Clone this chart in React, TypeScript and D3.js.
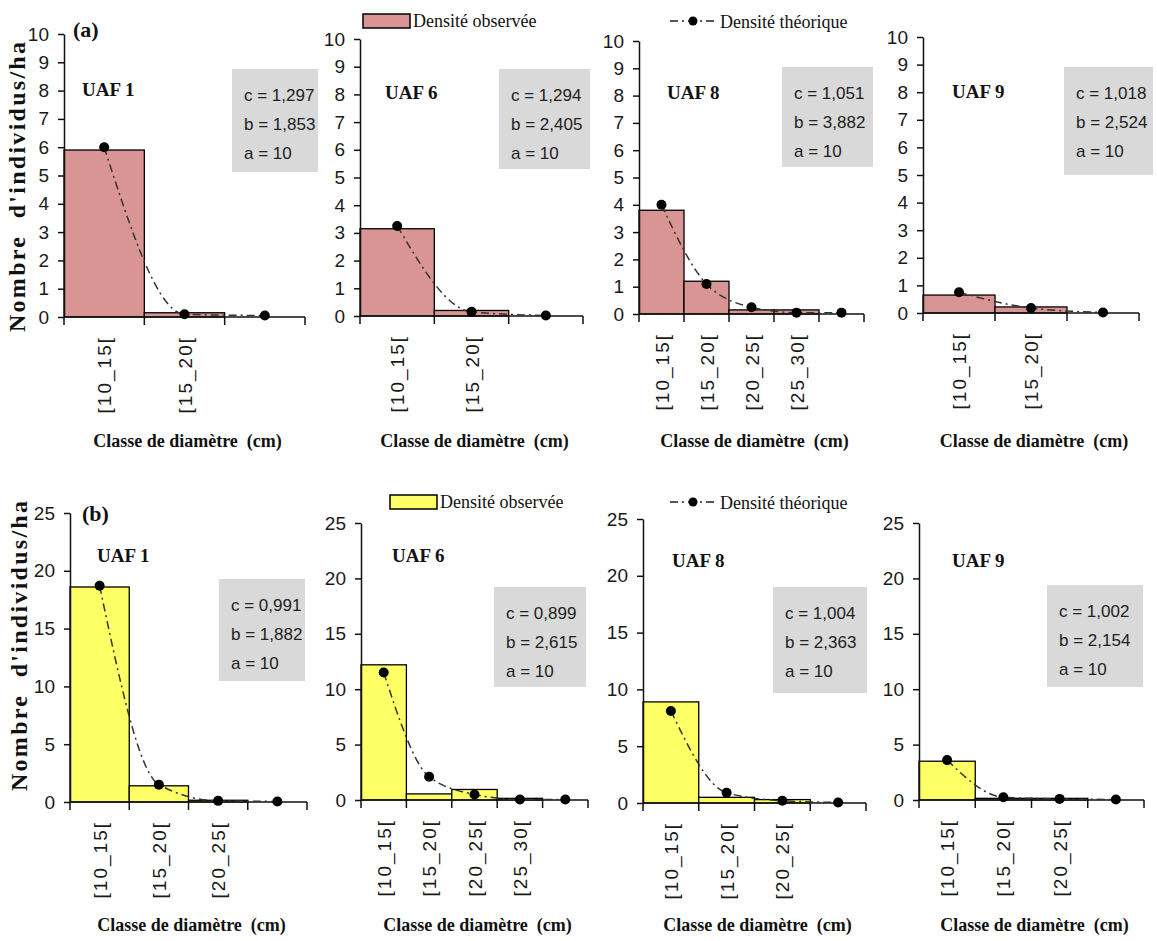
import React, { useEffect, useRef } from 'react';
import * as d3 from 'd3';

// diameter classes per panel (last class is empty, no label)
const classes3 = ["[10_15[", "[15_20[", ""];
const classes4 = ["[10_15[", "[15_20[", "[20_25[", ""];
const classes5 = ["[10_15[", "[15_20[", "[20_25[", "[25_30[", ""];

const uafNames = ["UAF 1", "UAF 6", "UAF 8", "UAF 9"];

// (a) observed / theoretical densities
const obsA1 = [5.9, 0.15, 0];
const theoA1 = [6.0, 0.1, 0.05];
const obsA6 = [3.15, 0.2, 0];
const theoA6 = [3.25, 0.15, 0.02];
const obsA8 = [3.8, 1.2, 0.15, 0.15, 0];
const theoA8 = [4.0, 1.1, 0.25, 0.05, 0.05];
const obsA9 = [0.65, 0.22, 0];
const theoA9 = [0.75, 0.18, 0.02];

// (b)
const obsB1 = [18.6, 1.4, 0.15, 0];
const theoB1 = [18.7, 1.5, 0.1, 0.05];
const obsB6 = [12.2, 0.55, 0.95, 0.15, 0];
const theoB6 = [11.5, 2.1, 0.5, 0.05, 0.05];
const obsB8 = [8.9, 0.5, 0.3, 0];
const theoB8 = [8.1, 0.9, 0.2, 0.05];
const obsB9 = [3.5, 0.15, 0.15, 0];
const theoB9 = [3.6, 0.25, 0.1, 0.05];

// Weibull parameters c, b, a
const paramsA = [["1,297", "1,853", "10"], ["1,294", "2,405", "10"], ["1,051", "3,882", "10"], ["1,018", "2,524", "10"]];
const paramsB = [["0,991", "1,882", "10"], ["0,899", "2,615", "10"], ["1,004", "2,363", "10"], ["1,002", "2,154", "10"]];

const ticksA = d3.range(0, 11, 1);
const ticksB = d3.range(0, 26, 5);

const SERIF = "'Liberation Serif', 'Times New Roman', serif";
const NARROW = "'Liberation Sans Narrow', 'Arial Narrow', 'Liberation Sans', sans-serif";
const SANS = "'Liberation Sans', Arial, sans-serif";

const App = () => {
  const svgRef = useRef<SVGSVGElement>(null);

  useEffect(() => {
    const svg = d3.select(svgRef.current);
    svg.selectAll("*").remove();

    const rows = [
      {
        label: "(a)", labelPos: [73, 37], max: 10, ticks: ticksA, fill: "#D99594",
        classes: [classes3, classes3, classes5, classes3],
        obs: [obsA1, obsA6, obsA8, obsA9], theo: [theoA1, theoA6, theoA8, theoA9],
        params: paramsA,
        frames: [
          { x0: 64, x1: 305, top: 34, bottom: 317 },
          { x0: 360, x1: 583, top: 39, bottom: 316 },
          { x0: 639, x1: 864, top: 41, bottom: 314 },
          { x0: 923, x1: 1139, top: 37, bottom: 313 },
        ],
        uafPos: [[82, 96], [385, 99], [667, 99], [952, 98]],
        boxes: [[232, 69, 86, 103], [499, 69, 91, 100], [782, 67, 91, 100], [1064, 67, 89, 108]],
        titleY: 447, yTitle: [25, 187],
        legend: { rectX: 363, rectY: 14, lineX: 670, y: 21 },
      },
      {
        label: "(b)", labelPos: [82, 521], max: 25, ticks: ticksB, fill: "#FFFF66",
        classes: [classes4, classes5, classes4, classes4],
        obs: [obsB1, obsB6, obsB8, obsB9], theo: [theoB1, theoB6, theoB8, theoB9],
        params: paramsB,
        frames: [
          { x0: 70, x1: 307, top: 513, bottom: 802 },
          { x0: 361, x1: 588, top: 523, bottom: 800 },
          { x0: 643, x1: 866, top: 519, bottom: 803 },
          { x0: 919, x1: 1144, top: 523, bottom: 800 },
        ],
        uafPos: [[97, 562], [392, 562], [672, 567], [952, 567]],
        boxes: [[219, 579, 86, 102], [494, 587, 92, 100], [773, 587, 94, 106], [1047, 585, 96, 102]],
        titleY: 931, yTitle: [27, 646],
        legend: { rectX: 390, rectY: 495, lineX: 670, y: 502 },
      },
    ];

    rows.forEach(row => {
      // panel letter
      svg.append("text").attr("x", row.labelPos[0]).attr("y", row.labelPos[1])
        .text(row.label).attr("font-family", SERIF).attr("font-weight", "bold")
        .attr("font-size", 22).attr("fill", "#111");

      // y title
      svg.append("text")
        .attr("transform", `translate(${row.yTitle[0]},${row.yTitle[1]}) rotate(-90)`)
        .attr("text-anchor", "middle").text("Nombre  d'individus/ha")
        .style("white-space", "pre")
        .attr("font-family", SERIF).attr("font-weight", "bold").attr("font-size", 24)
        .attr("textLength", 290).attr("lengthAdjust", "spacing").attr("fill", "#111");

      // legend
      const lg = row.legend;
      svg.append("rect").attr("x", lg.rectX).attr("y", lg.rectY).attr("width", 47).attr("height", 14)
        .attr("fill", row.fill).attr("stroke", "#000").attr("stroke-width", 1.5);
      svg.append("text").attr("x", lg.rectX + 50).attr("y", lg.rectY + 13).text("Densité observée")
        .attr("font-family", SERIF).attr("font-size", 18).attr("fill", "#111");
      svg.append("line").attr("x1", lg.lineX).attr("x2", lg.lineX + 47).attr("y1", lg.y).attr("y2", lg.y)
        .attr("stroke", "#222").attr("stroke-width", 1.5).attr("stroke-dasharray", "8,4,2,4");
      svg.append("circle").attr("cx", lg.lineX + 23).attr("cy", lg.y).attr("r", 4.5).attr("fill", "#000");
      svg.append("text").attr("x", lg.lineX + 50).attr("y", lg.y + 7).text("Densité théorique")
        .attr("font-family", SERIF).attr("font-size", 18).attr("fill", "#111");

      row.frames.forEach((f, i) => {
        const classes = row.classes[i];
        const obs = row.obs[i];
        const theo = row.theo[i];
        const g = svg.append("g");

        const x = d3.scaleBand().domain(classes).range([f.x0, f.x1]).padding(0);
        const y = d3.scaleLinear().domain([0, row.max]).range([f.bottom, f.top]);

        // info box
        const b = row.boxes[i];
        g.append("rect").attr("x", b[0]).attr("y", b[1]).attr("width", b[2]).attr("height", b[3])
          .attr("fill", "#D9D9D9");
        ["c", "b", "a"].forEach((p, k) => {
          g.append("text").attr("x", b[0] + 12).attr("y", b[1] + 32 + k * 29)
            .text(`${p} = ${row.params[i][k]}`)
            .attr("font-family", NARROW).attr("font-size", 17).attr("fill", "#222");
        });

        // UAF label
        g.append("text").attr("x", row.uafPos[i][0]).attr("y", row.uafPos[i][1]).text(uafNames[i])
          .attr("font-family", SERIF).attr("font-weight", "bold").attr("font-size", 19)
          .attr("fill", "#111");

        // bars
        g.selectAll("rect.bar").data(obs.map((v, k) => ({ c: classes[k], v })).filter(d => d.v > 0))
          .enter().append("rect").attr("class", "bar")
          .attr("x", d => x(d.c)!)
          .attr("y", d => y(d.v))
          .attr("width", x.bandwidth())
          .attr("height", d => f.bottom - y(d.v))
          .attr("fill", row.fill).attr("stroke", "#000").attr("stroke-width", 1.3);

        // y axis
        const ya = g.append("g").attr("transform", `translate(${f.x0},0)`)
          .call(d3.axisLeft(y).tickValues(row.ticks).tickSize(6).tickSizeOuter(0).tickPadding(9));
        ya.select(".domain").attr("stroke", "#111").attr("stroke-width", 1.5);
        ya.selectAll(".tick line").attr("stroke", "#111").attr("stroke-width", 1.5);
        ya.selectAll(".tick text").attr("font-family", NARROW).attr("font-size", 19).attr("fill", "#1a1a1a");

        // x axis
        g.append("line").attr("x1", f.x0).attr("x2", f.x1).attr("y1", f.bottom).attr("y2", f.bottom)
          .attr("stroke", "#111").attr("stroke-width", 1.5);
        const bounds = classes.map(c => x(c)!).concat([f.x1]);
        g.selectAll("line.xt").data(bounds).enter().append("line").attr("class", "xt")
          .attr("x1", d => d).attr("x2", d => d).attr("y1", f.bottom).attr("y2", f.bottom + 8)
          .attr("stroke", "#111").attr("stroke-width", 1.5);
        g.selectAll("text.xl").data(classes.filter(c => c !== "")).enter().append("text").attr("class", "xl")
          .attr("transform", d => `translate(${x(d)! + x.bandwidth() / 2 + 7},${f.bottom + 19}) rotate(-90)`)
          .attr("text-anchor", "end").text(d => d)
          .attr("font-family", SANS).attr("font-size", 19).attr("fill", "#1a1a1a")
          .attr("letter-spacing", 2);

        // theoretical curve
        const pts = theo.map((v, k) => [x(classes[k])! + x.bandwidth() / 2, y(v)] as [number, number]);
        g.append("path").attr("d", d3.line().curve(d3.curveMonotoneX)(pts)!)
          .attr("fill", "none").attr("stroke", "#333").attr("stroke-width", 1.5)
          .attr("stroke-dasharray", "8,4,2,4");
        g.selectAll("circle.pt").data(pts).enter().append("circle").attr("class", "pt")
          .attr("cx", d => d[0]).attr("cy", d => d[1]).attr("r", 5).attr("fill", "#000");

        // x title
        g.append("text").attr("x", (f.x0 + f.x1) / 2 + 3).attr("y", row.titleY)
          .attr("text-anchor", "middle").text("Classe de diamètre  (cm)")
          .style("white-space", "pre")
          .attr("font-family", SERIF).attr("font-weight", "bold").attr("font-size", 18)
          .attr("fill", "#111");
      });
    });
  }, []);

  return (
    <svg ref={svgRef} width={1157} height={941}
      style={{ position: 'absolute', left: 0, top: 0, background: '#fff' }} />
  );
};

export default App;
